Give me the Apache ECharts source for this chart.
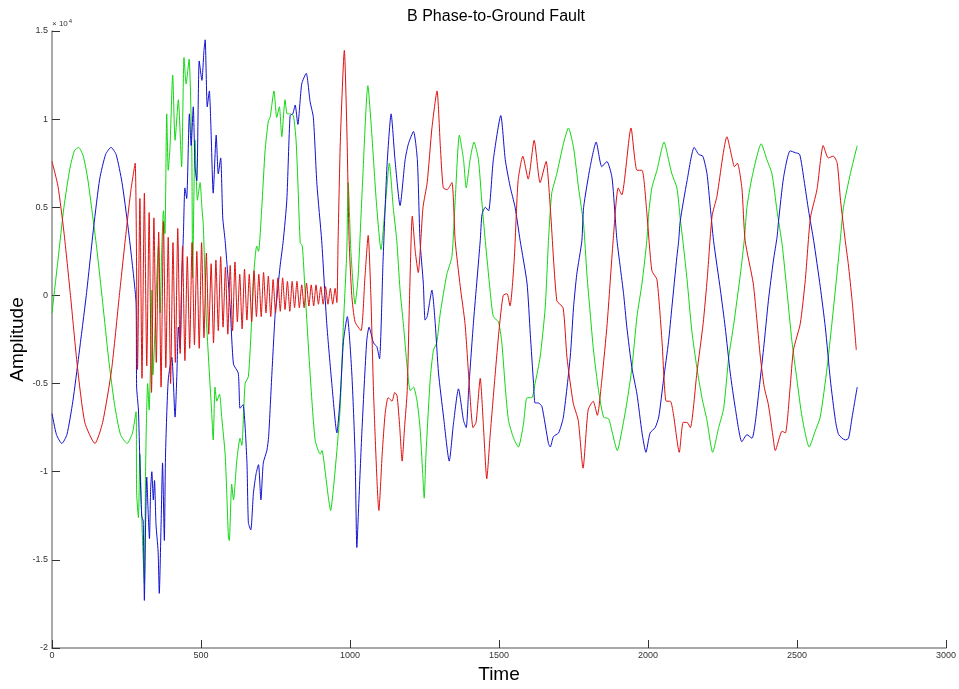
<!DOCTYPE html>
<html>
<head>
<meta charset="utf-8">
<script src="https://cdn.jsdelivr.net/npm/echarts@6/dist/echarts.min.js"></script>
<style>html,body{margin:0;padding:0;background:#fff}#c{width:959px;height:689px}</style>
</head>
<body>
<div id="c"></div>
<script>
const chartTitle = 'B Phase-to-Ground Fault';
const xName = 'Time';
const yName = 'Amplitude';
const xTicks = [0, 500, 1000, 1500, 2000, 2500, 3000];
const yTicks = [-2, -1.5, -1, -0.5, 0, 0.5, 1, 1.5];

const greenData = [[0,-0.1],[20,0.2],[40,0.5],[60,0.72],[75,0.82],[89,0.84],[105,0.79],[120,0.66],[135,0.47],[150,0.27],[170,-0.04],[190,-0.36],[210,-0.62],[230,-0.79],[252,-0.84],[270,-0.78],[282,-0.66],
[284,-1.12],[290,-1.26],[295,-0.9],[300,-1.2],[306,-1.49],[310,-1.63],[314,-1.0],[317,-0.7],[321,-0.5],[326,-0.65],[331,-0.35],[335,0.03],[339,-0.45],[343,-0.31],[351,0.07],[357,0.28],[363,-0.1],[368,0.25],[374,0.48],[379,0.35],[385,1.03],[390,0.71],[396,0.84],[405,1.25],[413,0.88],[424,1.11],[435,0.73],[443,1.35],[450,1.2],[460,1.34],[469,0.82],[472,0.1],[480,0.88],[488,0.54],[497,0.64],[503,0.5],[508,0.39],[517,-0.1],[525,-0.35],[536,-0.67],[541,-0.82],[547,-0.52],[553,-0.6],[562,-0.56],[570,-0.7],[581,-0.9],[586,-1.1],[592,-1.37],[595,-1.39],[603,-1.07],[609,-1.16],[620,-0.94],[631,-0.81],[637,-0.85],[648,-0.5],[659,-0.46],[670,-0.14],[676,0.1],[687,0.28],[693,0.25],[704,0.5],[715,0.82],[726,0.99],[732,1.01],[745,1.16],[754,1.01],[763,1.07],[771,0.9],[782,1.11],[789,1.03],[799,1.03],[810,1.02],[819,0.88],[826,0.6],[833,0.3],[840,0.28],[849,0.03],[866,-0.44],[883,-0.82],[900,-0.9],[906,-0.88],[916,-0.99],[927,-1.14],[935,-1.22],[944,-1.1],[956,-0.88],[967,-0.64],[978,-0.16],[989,0.24],[994,0.64],[1003,0.25],[1017,-0.05],[1027,0.1],[1041,0.6],[1060,1.19],[1073,0.92],[1088,0.54],[1104,0.26],[1118,0.5],[1132,0.75],[1145,0.5],[1157,0.31],[1168,0.03],[1179,-0.16],[1192,-0.41],[1202,-0.54],[1213,-0.52],[1225,-0.6],[1235,-0.75],[1244,-1.01],[1249,-1.15],[1255,-0.9],[1269,-0.48],[1280,-0.31],[1291,-0.27],[1303,-0.1],[1325,0.12],[1342,0.22],[1353,0.54],[1367,0.91],[1381,0.77],[1390,0.61],[1403,0.77],[1416,0.87],[1431,0.77],[1442,0.54],[1454,0.31],[1470,0.03],[1481,-0.12],[1498,-0.15],[1509,-0.26],[1521,-0.52],[1532,-0.71],[1549,-0.81],[1565,-0.86],[1582,-0.73],[1594,-0.58],[1610,-0.58],[1621,-0.5],[1638,-0.35],[1655,-0.07],[1666,0.31],[1677,0.58],[1694,0.69],[1716,0.86],[1733,0.95],[1750,0.84],[1767,0.61],[1784,0.4],[1795,0.12],[1806,-0.1],[1817,-0.31],[1834,-0.54],[1851,-0.69],[1868,-0.7],[1879,-0.77],[1897,-0.88],[1912,-0.77],[1929,-0.61],[1946,-0.41],[1963,-0.12],[1980,0.07],[1996,0.31],[2002,0.46],[2013,0.61],[2030,0.71],[2054,0.87],[2069,0.77],[2080,0.69],[2097,0.61],[2108,0.44],[2119,0.28],[2131,0.09],[2147,-0.2],[2164,-0.41],[2181,-0.58],[2198,-0.71],[2217,-0.89],[2237,-0.75],[2254,-0.64],[2271,-0.35],[2288,-0.16],[2310,0.12],[2324,0.33],[2332,0.5],[2349,0.67],[2380,0.86],[2399,0.77],[2416,0.69],[2433,0.48],[2450,0.29],[2466,0.03],[2483,-0.26],[2500,-0.48],[2517,-0.69],[2541,-0.86],[2561,-0.77],[2578,-0.69],[2601,-0.41],[2617,-0.16],[2634,0.12],[2645,0.31],[2656,0.5],[2679,0.69],[2702,0.85]];

const blueData = [[0,-0.67],[15,-0.79],[33,-0.84],[50,-0.79],[70,-0.6],[90,-0.34],[115,0.0],[140,0.39],[160,0.66],[180,0.8],[198,0.84],[215,0.8],[235,0.64],[255,0.39],[270,0.17],[282,-0.04],
[284,-0.52],[290,-0.65],[295,-0.95],[301,-1.25],[306,-1.28],[310,-1.73],[314,-1.3],[318,-1.03],[322,-1.2],[327,-1.38],[331,-1.1],[335,-1.0],[340,-1.16],[344,-1.05],[349,-1.3],[356,-1.45],[360,-1.69],[366,-1.3],[371,-0.95],[377,-1.39],[381,-0.9],[390,-0.48],[402,-0.35],[413,-0.69],[419,-0.45],[424,-0.18],[430,-0.3],[435,0.07],[441,0.35],[446,0.61],[452,0.55],[461,1.03],[467,0.85],[474,1.07],[480,0.73],[486,0.65],[494,1.33],[503,1.22],[510,1.39],[514,1.45],[521,1.07],[528,1.16],[533,0.97],[541,0.58],[551,0.91],[558,0.69],[566,0.78],[573,0.44],[581,0.31],[598,-0.07],[609,-0.39],[625,-0.44],[631,-0.64],[641,-0.62],[654,-0.94],[659,-1.29],[667,-1.33],[676,-1.12],[685,-1.01],[693,-0.96],[701,-1.16],[709,-0.95],[721,-0.88],[727,-0.8],[738,-0.44],[749,-0.1],[754,-0.03],[765,0.16],[776,0.31],[788,0.54],[799,1.02],[808,1.03],[816,1.08],[825,0.97],[838,1.2],[853,1.26],[866,1.1],[877,1.01],[889,0.63],[905,0.31],[922,-0.16],[939,-0.5],[956,-0.78],[967,-0.58],[978,-0.26],[991,-0.12],[1006,-0.44],[1017,-0.9],[1023,-1.43],[1029,-1.2],[1040,-0.77],[1056,-0.26],[1064,-0.18],[1079,-0.27],[1090,-0.29],[1099,-0.36],[1111,0.2],[1124,0.73],[1138,1.03],[1151,0.77],[1168,0.51],[1185,0.77],[1196,0.86],[1213,0.93],[1226,0.77],[1235,0.31],[1246,0.07],[1252,-0.14],[1259,-0.12],[1275,0.03],[1286,-0.16],[1297,-0.44],[1314,-0.69],[1333,-0.94],[1347,-0.73],[1364,-0.53],[1381,-0.71],[1390,-0.75],[1398,-0.54],[1414,-0.16],[1437,0.31],[1443,0.46],[1454,0.5],[1465,0.48],[1481,0.77],[1506,1.02],[1521,0.77],[1537,0.62],[1554,0.5],[1571,0.31],[1594,0.07],[1605,-0.22],[1616,-0.5],[1621,-0.61],[1632,-0.61],[1644,-0.63],[1666,-0.84],[1672,-0.86],[1683,-0.8],[1700,-0.78],[1716,-0.69],[1739,-0.35],[1750,-0.07],[1761,0.12],[1778,0.31],[1784,0.5],[1806,0.73],[1826,0.87],[1845,0.73],[1862,0.76],[1879,0.67],[1890,0.44],[1896,0.31],[1907,0.16],[1918,0.01],[1929,-0.18],[1946,-0.41],[1963,-0.56],[1980,-0.78],[1993,-0.89],[2007,-0.78],[2024,-0.75],[2036,-0.69],[2052,-0.48],[2069,-0.26],[2080,-0.07],[2097,0.22],[2103,0.31],[2108,0.42],[2131,0.65],[2155,0.84],[2170,0.8],[2184,0.79],[2198,0.69],[2209,0.5],[2220,0.31],[2243,0.03],[2259,-0.18],[2276,-0.44],[2293,-0.64],[2315,-0.83],[2332,-0.79],[2349,-0.81],[2360,-0.72],[2371,-0.56],[2388,-0.3],[2404,-0.03],[2421,0.2],[2433,0.33],[2438,0.42],[2455,0.67],[2477,0.82],[2494,0.81],[2509,0.8],[2524,0.65],[2539,0.48],[2556,0.31],[2578,0.05],[2595,-0.18],[2612,-0.48],[2629,-0.71],[2640,-0.79],[2662,-0.82],[2673,-0.81],[2685,-0.69],[2702,-0.52]];

const redData = [[0,0.76],[20,0.62],[40,0.36],[62,0.0],[85,-0.4],[110,-0.72],[144,-0.84],[170,-0.72],[200,-0.42],[226,0.0],[250,0.38],[265,0.6],[279,0.75],
[287,-0.42],[295,0.55],[302,-0.47],[310,0.58],[318,-0.4],[326,0.47],[334,-0.55],[342,0.44],[350,-0.38],[358,0.36],[366,-0.52],[374,0.42],[382,-0.41],[390,0.33],[398,-0.5],[406,0.3],[414,-0.38],[422,0.38],[430,-0.33],[438,0.28],[446,-0.37],[454,0.22],[462,-0.3],[470,0.3],[478,-0.28],[486,0.25],[494,-0.3],[502,0.3],[510,-0.24],[518,0.24],[526,-0.22],[534,0.18],[542,-0.27],[550,0.2],[558,-0.2],[566,0.22],[574,-0.18],[582,0.16],[590,-0.22],[598,0.17],[606,-0.2],[614,0.19],[622,-0.15],[630,0.12],[638,-0.19],[646,0.15],[654,-0.14],[662,0.12],[670,-0.15],[678,0.14],[686,-0.12],[694,0.12],[702,-0.12],[710,0.13],[718,-0.1],[726,0.11],[734,-0.12],[742,0.09],[750,-0.1],[758,0.1],[766,-0.09],[774,0.1],[782,-0.08],[790,0.08],[798,-0.09],[806,0.08],[814,-0.07],[822,0.08],[830,-0.07],[838,0.06],[846,-0.07],[854,0.07],[862,-0.06],[870,0.06],[878,-0.06],[886,0.06],[894,-0.05],[902,0.05],[910,-0.05],[918,0.05],[926,-0.05],[934,0.04],[942,-0.05],[950,0.04],[956,-0.04],
[960,0.31],[968,0.9],[981,1.39],[990,0.9],[997,0.31],[1006,0.0],[1017,-0.15],[1037,-0.2],[1050,0.1],[1061,0.34],[1070,0.0],[1080,-0.6],[1097,-1.22],[1108,-0.9],[1118,-0.67],[1128,-0.58],[1141,-0.6],[1150,-0.55],[1158,-0.57],[1167,-0.75],[1175,-0.94],[1183,-0.75],[1192,-0.54],[1200,0.0],[1209,0.45],[1219,0.25],[1229,0.13],[1245,0.5],[1259,0.64],[1275,0.95],[1292,1.16],[1303,0.85],[1313,0.61],[1326,0.6],[1342,0.64],[1353,0.31],[1370,0.05],[1386,-0.16],[1400,-0.5],[1413,-0.75],[1423,-0.72],[1437,-0.47],[1448,-0.75],[1459,-1.04],[1470,-0.8],[1487,-0.45],[1500,-0.2],[1514,0.0],[1527,0.01],[1537,-0.06],[1551,0.2],[1564,0.65],[1580,0.79],[1598,0.66],[1618,0.88],[1638,0.64],[1658,0.76],[1672,0.5],[1694,-0.03],[1715,-0.07],[1728,-0.35],[1749,-0.61],[1766,-0.71],[1782,-0.98],[1799,-0.65],[1816,-0.6],[1830,-0.68],[1845,-0.48],[1863,-0.16],[1883,0.31],[1900,0.61],[1912,0.57],[1943,0.95],[1963,0.71],[1980,0.71],[1996,0.47],[2013,0.14],[2030,0.09],[2047,-0.26],[2061,-0.6],[2075,-0.6],[2085,-0.67],[2105,-0.89],[2118,-0.72],[2131,-0.72],[2142,-0.75],[2164,-0.44],[2185,-0.16],[2199,0.1],[2215,0.45],[2231,0.56],[2265,0.9],[2282,0.78],[2290,0.73],[2300,0.75],[2315,0.61],[2326,0.31],[2353,0.07],[2366,-0.15],[2377,-0.35],[2390,-0.52],[2404,-0.62],[2421,-0.82],[2427,-0.88],[2450,-0.77],[2461,-0.78],[2477,-0.52],[2488,-0.31],[2511,-0.16],[2528,0.09],[2545,0.44],[2567,0.6],[2588,0.85],[2605,0.78],[2622,0.79],[2635,0.75],[2646,0.54],[2662,0.31],[2672,0.18],[2685,-0.03],[2699,-0.31]];

const FONT = '"Liberation Sans", Arial, sans-serif';
const chart = echarts.init(document.getElementById('c'), null, {renderer: 'canvas'});
function mkSeries(name, data, color) {
  return {name, type: 'line', data, showSymbol: false, smooth: 0.2, animation: false,
    lineStyle: {color, width: 1}, itemStyle: {color}, silent: true, z: 2};
}
chart.setOption({
  animation: false,
  backgroundColor: '#fff',
  grid: {left: 52, right: 13, top: 31, bottom: 41, containLabel: false, outerBoundsMode: 'none'},
  xAxis: {
    type: 'value', min: xTicks[0], max: xTicks[xTicks.length - 1], interval: 500,
    name: xName, nameLocation: 'middle', nameGap: 17, nameMoveOverlap: false,
    nameTextStyle: {fontSize: 19, color: '#000', fontFamily: FONT},
    axisLine: {onZero: false, lineStyle: {color: '#8c8c8c', width: 1.5}},
    axisTick: {inside: true, length: 8, lineStyle: {color: '#333'}},
    axisLabel: {fontSize: 9, color: '#333', margin: 3, fontFamily: FONT, formatter: v => String(v)},
    splitLine: {show: false}
  },
  yAxis: {
    type: 'value', min: yTicks[0], max: yTicks[yTicks.length - 1], interval: 0.5,
    name: yName, nameLocation: 'middle', nameGap: 25, nameRotate: 90, nameMoveOverlap: false,
    nameTextStyle: {fontSize: 19, color: '#000', fontFamily: FONT},
    axisLine: {show: true, onZero: false, lineStyle: {color: '#8c8c8c', width: 1.5}},
    axisTick: {show: true, inside: true, length: 8, lineStyle: {color: '#333'}},
    axisLabel: {fontSize: 9, color: '#333', margin: 4, fontFamily: FONT, formatter: v => String(v)},
    splitLine: {show: false}
  },
  graphic: [
    {type: 'text', x: 496, y: 17, style: {text: chartTitle, fill: '#000', font: '16px ' + FONT, textAlign: 'center', textVerticalAlign: 'middle'}},
    {type: 'text', x: 52, y: 24, style: {text: '{a|× 10}{b|4}', fill: '#333', textVerticalAlign: 'middle',
      rich: {a: {fontSize: 8, fontFamily: FONT, fill: '#333'}, b: {fontSize: 6, fontFamily: FONT, fill: '#333', verticalAlign: 'top', padding: [0, 0, 6, 1]}}}}
  ],
  series: [
    mkSeries('A', greenData, '#10d810'),
    mkSeries('B', blueData, '#1010d0'),
    mkSeries('C', redData, '#e01010')
  ]
});
</script>
</body>
</html>
